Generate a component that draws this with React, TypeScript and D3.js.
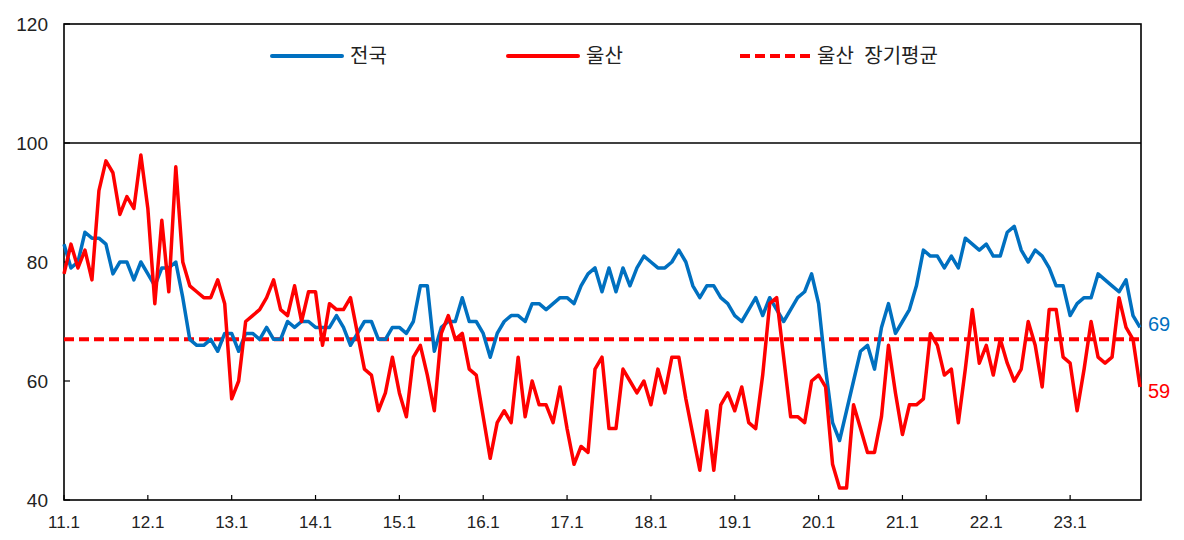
import React from "react";
import * as d3 from "d3";

// Monthly series, 2011.1 – 2023.11
const national: number[] = [
  83, 79, 80, 85, 84, 84, 83, 78, 80, 80, 77, 80,
  78, 76, 79, 79, 80, 74, 67, 66, 66, 67, 65, 68,
  68, 65, 68, 68, 67, 69, 67, 67, 70, 69, 70, 70,
  69, 69, 69, 71, 69, 66, 68, 70, 70, 67, 67, 69,
  69, 68, 70, 76, 76, 65, 69, 70, 70, 74, 70, 70,
  68, 64, 68, 70, 71, 71, 70, 73, 73, 72, 73, 74,
  74, 73, 76, 78, 79, 75, 79, 75, 79, 76, 79, 81,
  80, 79, 79, 80, 82, 80, 76, 74, 76, 76, 74, 73,
  71, 70, 72, 74, 71, 74, 72, 70, 72, 74, 75, 78,
  73, 62, 53, 50, 55, 60, 65, 66, 62, 69, 73, 68,
  70, 72, 76, 82, 81, 81, 79, 81, 79, 84, 83, 82,
  83, 81, 81, 85, 86, 82, 80, 82, 81, 79, 76, 76,
  71, 73, 74, 74, 78, 77, 76, 75, 77, 71, 69,
];
const ulsan: number[] = [
  78, 83, 79, 82, 77, 92, 97, 95, 88, 91, 89, 98,
  89, 73, 87, 75, 96, 80, 76, 75, 74, 74, 77, 73,
  57, 60, 70, 71, 72, 74, 77, 72, 71, 76, 70, 75,
  75, 66, 73, 72, 72, 74, 68, 62, 61, 55, 58, 64,
  58, 54, 64, 66, 61, 55, 68, 71, 67, 68, 62, 61,
  54, 47, 53, 55, 53, 64, 54, 60, 56, 56, 53, 59,
  52, 46, 49, 48, 62, 64, 52, 52, 62, 60, 58, 60,
  56, 62, 58, 64, 64, 57, 51, 45, 55, 45, 56, 58,
  55, 59, 53, 52, 61, 73, 74, 64, 54, 54, 53, 60,
  61, 59, 46, 42, 42, 56, 52, 48, 48, 54, 66, 58,
  51, 56, 56, 57, 68, 66, 61, 62, 53, 62, 72, 63,
  66, 61, 67, 63, 60, 62, 70, 66, 59, 72, 72, 64,
  63, 55, 62, 70, 64, 63, 64, 74, 69, 67, 59,
];
const ulsanAvg = 67;
const xTickLabels: string[] = [
  "11.1", "12.1", "13.1", "14.1", "15.1", "16.1", "17.1",
  "18.1", "19.1", "20.1", "21.1", "22.1", "23.1",
];
const yTicks: number[] = [40, 60, 80, 100, 120];
const legendLabels: string[] = ["전국", "울산", "울산 장기평균"];

const BLUE = "#0070C0";
const RED = "#FF0000";
const NUM_FONT = "'Liberation Sans', Arial, 'Noto Sans CJK KR', sans-serif";
const KR_FONT = "'Noto Sans CJK KR', 'Noto Sans', sans-serif";

export default function App() {
  const W = 1184, H = 540;
  const left = 64, right = 1141, top = 24, bottom = 500;
  const n = national.length;
  const x = d3.scaleLinear().domain([0, n - 1]).range([left, 1140]);
  const y = d3.scaleLinear().domain([40, 120]).range([bottom, top]);
  const line = d3.line<number>().x((_, i) => x(i)).y((d) => y(d));

  return (
    <svg width={W} height={H} style={{ position: "absolute", left: 0, top: 0, background: "#fff" }}>
      {/* frame */}
      <rect x={left} y={top} width={right - left} height={bottom - top} fill="none" stroke="#000" strokeWidth={1.6} />
      <line x1={left} x2={right} y1={y(100)} y2={y(100)} stroke="#000" strokeWidth={1.6} />
      {/* y ticks */}
      {yTicks.map((t) => (
        <g key={t}>
          <line x1={left} x2={left + 6} y1={y(t)} y2={y(t)} stroke="#000" strokeWidth={1.2} />
          <text x={48} y={y(t)} dy="0.36em" textAnchor="end" fontFamily={NUM_FONT} fontSize={19} fill="#222">{t}</text>
        </g>
      ))}
      {/* x ticks */}
      {xTickLabels.map((lab, k) => {
        const xi = x(k * 12);
        return (
          <g key={lab}>
            <line x1={xi} x2={xi} y1={bottom} y2={bottom - 5} stroke="#000" strokeWidth={1.2} />
            <text x={xi} y={528} textAnchor="middle" fontFamily={NUM_FONT} fontSize={17} fill="#222">{lab}</text>
          </g>
        );
      })}
      {/* average line */}
      <line x1={left} x2={1140} y1={y(ulsanAvg)} y2={y(ulsanAvg)} stroke={RED} strokeWidth={4} strokeDasharray="10 5" />
      {/* series */}
      <path d={line(national) || ""} fill="none" stroke={BLUE} strokeWidth={3.5} strokeLinejoin="round" />
      <path d={line(ulsan) || ""} fill="none" stroke={RED} strokeWidth={3.5} strokeLinejoin="round" />
      {/* end labels */}
      <text x={1148} y={y(national[n - 1]) - 4} dy="0.36em" fontFamily={NUM_FONT} fontSize={20} fill={BLUE}>{national[n - 1]}</text>
      <text x={1148} y={y(ulsan[n - 1]) + 4} dy="0.36em" fontFamily={NUM_FONT} fontSize={20} fill={RED}>{ulsan[n - 1]}</text>
      {/* legend */}
      <line x1={272} x2={342} y1={56} y2={56} stroke={BLUE} strokeWidth={4} strokeLinecap="round" />
      <text x={350} y={56} dy="0.36em" fontFamily={KR_FONT} fontSize={20} fill="#222">{legendLabels[0]}</text>
      <line x1={508} x2={578} y1={56} y2={56} stroke={RED} strokeWidth={4} strokeLinecap="round" />
      <text x={586} y={56} dy="0.36em" fontFamily={KR_FONT} fontSize={20} fill="#222">{legendLabels[1]}</text>
      <line x1={740} x2={810} y1={56} y2={56} stroke={RED} strokeWidth={4} strokeDasharray="10 5" />
      <text x={817} y={56} dy="0.36em" fontFamily={KR_FONT} fontSize={20} wordSpacing={6} fill="#222">{legendLabels[2]}</text>
    </svg>
  );
}
